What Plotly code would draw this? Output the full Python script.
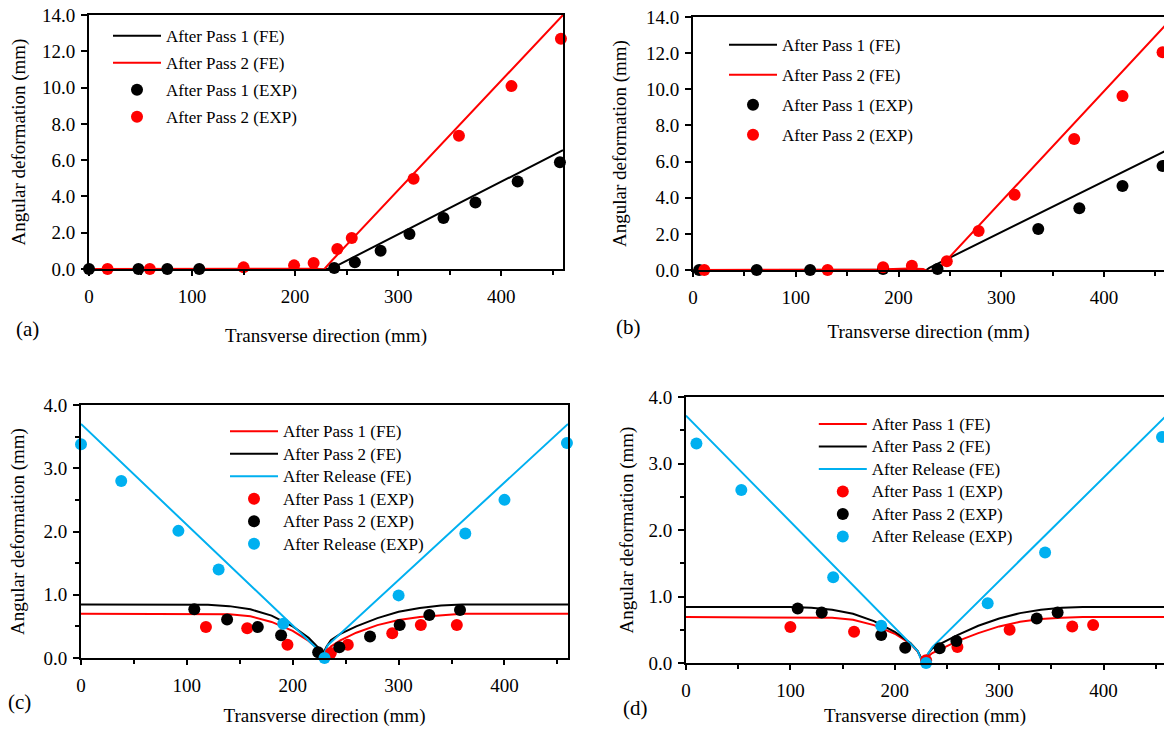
import plotly.graph_objects as go

# ---------------- data ----------------
# (a)
a_exp1_x = [0, 48, 76, 107, 238, 258, 283, 311, 344, 375, 416, 457]
a_exp1_y = [0, 0, 0, 0, 0.05, 0.37, 1.01, 1.93, 2.81, 3.66, 4.82, 5.89]
a_exp2_x = [18, 59, 150, 199, 218, 241, 255, 315, 359, 410, 458]
a_exp2_y = [0, 0, 0.09, 0.20, 0.33, 1.10, 1.71, 4.97, 7.34, 10.08, 12.69]
a_fe1_x = [0, 100, 200, 222, 228, 236, 460]
a_fe1_y = [0, 0, 0, 0, -0.03, 0.05, 6.55]
a_fe2_x = [0, 100, 200, 222, 228, 236, 460]
a_fe2_y = [0, 0, 0, 0.02, -0.03, 0.48, 14.0]

# (b)
b_exp1_x = [6, 62, 114, 185, 238, 336, 376, 418, 457]
b_exp1_y = [0, 0, 0, 0.05, 0.05, 2.27, 3.42, 4.65, 5.76]
b_exp2_x = [11, 131, 185, 213, 247, 278, 313, 371, 418, 457]
b_exp2_y = [0, 0, 0.15, 0.24, 0.48, 2.16, 4.16, 7.25, 9.63, 12.05]
b_fe1_x = [0, 100, 200, 220, 226, 230, 460]
b_fe1_y = [0, 0, 0, 0.02, -0.05, 0.12, 6.6]
b_fe2_x = [0, 100, 180, 210, 224, 228, 238, 460]
b_fe2_y = [0, 0, 0.03, 0.08, 0.05, -0.05, 0.0, 13.56]

# (c)
c_exp1_x = [118, 157, 195, 236, 252, 294, 321, 355]
c_exp1_y = [0.49, 0.47, 0.21, 0.08, 0.21, 0.39, 0.52, 0.52]
c_exp2_x = [107, 138, 167, 189, 224, 244, 273, 301, 329, 358]
c_exp2_y = [0.77, 0.61, 0.49, 0.36, 0.09, 0.17, 0.34, 0.52, 0.68, 0.76]
c_exp3_x = [0, 38, 92, 130, 191, 230, 300, 363, 400, 459]
c_exp3_y = [3.38, 2.80, 2.01, 1.40, 0.54, 0.0, 0.99, 1.97, 2.50, 3.40]
c_fe_x = [0, 100, 120, 140, 160, 180, 200, 215, 222, 226, 229, 232, 236,
          245, 260, 280, 300, 320, 340, 360, 380, 460]
c_fe1_y = [0.70, 0.70, 0.70, 0.69, 0.66, 0.57, 0.43, 0.27, 0.17, 0.09, 0.04,
           0.10, 0.18, 0.28, 0.40, 0.52, 0.60, 0.65, 0.68, 0.70, 0.70, 0.70]
c_fe2_y = [0.845, 0.845, 0.84, 0.82, 0.77, 0.67, 0.50, 0.32, 0.20, 0.12, 0.08,
           0.18, 0.28, 0.38, 0.50, 0.63, 0.73, 0.79, 0.83, 0.845, 0.845, 0.845]
c_fe3_x = [0, 225, 229, 233, 460]
c_fe3_y = [3.70, 0.11, 0.05, 0.20, 3.70]

# (d)
d_exp1_x = [100, 161, 230, 260, 310, 370, 390]
d_exp1_y = [0.54, 0.47, 0.04, 0.24, 0.50, 0.55, 0.57]
d_exp2_x = [107, 130, 187, 210, 243, 259, 336, 356]
d_exp2_y = [0.82, 0.76, 0.42, 0.23, 0.22, 0.33, 0.67, 0.76]
d_exp3_x = [10, 53, 141, 187, 230, 289, 344, 456]
d_exp3_y = [3.30, 2.60, 1.29, 0.56, 0.0, 0.90, 1.66, 3.40]
d_fe_x = [0, 100, 120, 140, 160, 180, 200, 215, 222, 226, 229, 232, 236,
          245, 260, 280, 300, 320, 340, 360, 380, 460]
d_fe1_y = [0.69, 0.69, 0.69, 0.68, 0.65, 0.57, 0.44, 0.29, 0.17, 0.05, 0.01,
           0.10, 0.15, 0.22, 0.33, 0.45, 0.55, 0.62, 0.66, 0.68, 0.69, 0.69]
d_fe2_y = [0.842, 0.842, 0.83, 0.80, 0.74, 0.63, 0.47, 0.30, 0.18, 0.05, 0.02,
           0.14, 0.22, 0.30, 0.42, 0.56, 0.67, 0.75, 0.80, 0.83, 0.842, 0.842]
d_fe3_x = [0, 222, 226, 228, 231, 236, 460]
d_fe3_y = [3.72, 0.18, 0.02, 0.0, 0.12, 0.24, 3.72]

x_tick_vals = [0, 100, 200, 300, 400]
labels_ab = ["After Pass 1 (FE)", "After Pass 2 (FE)", "After Pass 1 (EXP)", "After Pass 2 (EXP)"]
labels_cd = ["After Pass 1 (FE)", "After Pass 2 (FE)", "After Release (FE)",
             "After Pass 1 (EXP)", "After Pass 2 (EXP)", "After Release (EXP)"]

RED = "#FF0000"
BLACK = "#000000"
BLUE = "#00B0F0"
FONT = "Liberation Serif"
W, H = 1164, 729


def nm(s):
    return '<span style="font-size:17px">' + s + '</span>'


fig = go.Figure()


def line(x, y, color, name, xa, ya, leg, grp):
    fig.add_trace(go.Scatter(x=x, y=y, mode="lines", line=dict(color=color, width=2),
                             name=nm(name), xaxis=xa, yaxis=ya, legend=leg,
                             legendgroup=grp, hoverinfo="skip"))


def pts(x, y, color, name, xa, ya, leg, grp):
    fig.add_trace(go.Scatter(x=x, y=y, mode="markers", marker=dict(color=color, size=12),
                             name=nm(name), xaxis=xa, yaxis=ya, legend=leg,
                             legendgroup=grp, cliponaxis=False))


# (a)
line(a_fe1_x, a_fe1_y, BLACK, labels_ab[0], "x", "y", "legend", "a1")
line(a_fe2_x, a_fe2_y, RED, labels_ab[1], "x", "y", "legend", "a2")
pts(a_exp1_x, a_exp1_y, BLACK, labels_ab[2], "x", "y", "legend", "a3")
pts(a_exp2_x, a_exp2_y, RED, labels_ab[3], "x", "y", "legend", "a4")
# (b)
line(b_fe1_x, b_fe1_y, BLACK, labels_ab[0], "x2", "y2", "legend2", "b1")
line(b_fe2_x, b_fe2_y, RED, labels_ab[1], "x2", "y2", "legend2", "b2")
pts(b_exp1_x, b_exp1_y, BLACK, labels_ab[2], "x2", "y2", "legend2", "b3")
pts(b_exp2_x, b_exp2_y, RED, labels_ab[3], "x2", "y2", "legend2", "b4")
# (c)
line(c_fe_x, c_fe1_y, RED, labels_cd[0], "x3", "y3", "legend3", "c1")
line(c_fe_x, c_fe2_y, BLACK, labels_cd[1], "x3", "y3", "legend3", "c2")
line(c_fe3_x, c_fe3_y, BLUE, labels_cd[2], "x3", "y3", "legend3", "c3")
pts(c_exp1_x, c_exp1_y, RED, labels_cd[3], "x3", "y3", "legend3", "c4")
pts(c_exp2_x, c_exp2_y, BLACK, labels_cd[4], "x3", "y3", "legend3", "c5")
pts(c_exp3_x, c_exp3_y, BLUE, labels_cd[5], "x3", "y3", "legend3", "c6")
# (d)
line(d_fe_x, d_fe1_y, RED, labels_cd[0], "x4", "y4", "legend4", "d1")
line(d_fe_x, d_fe2_y, BLACK, labels_cd[1], "x4", "y4", "legend4", "d2")
line(d_fe3_x, d_fe3_y, BLUE, labels_cd[2], "x4", "y4", "legend4", "d3")
pts(d_exp1_x, d_exp1_y, RED, labels_cd[3], "x4", "y4", "legend4", "d4")
pts(d_exp2_x, d_exp2_y, BLACK, labels_cd[4], "x4", "y4", "legend4", "d5")
pts(d_exp3_x, d_exp3_y, BLUE, labels_cd[5], "x4", "y4", "legend4", "d6")


def px_x(a, b):
    return [a / W, min(b / W, 1.0)]


def px_y(top, bottom):
    return [1 - bottom / H, 1 - top / H]


tickfont = dict(family=FONT, size=19, color="black")
titlefont = dict(family=FONT, size=19, color="black")


def xaxis(dom, rng, anchor, standoff):
    return dict(domain=dom, range=rng, anchor=anchor, showgrid=False, zeroline=False,
                showline=True, linewidth=2, linecolor="black", mirror=True,
                ticks="outside", ticklen=5, tickwidth=1.5, tickcolor="black",
                tickvals=x_tick_vals, tickfont=tickfont, ticklabelstandoff=4,
                automargin=False,
                minor=dict(dtick=50, tick0=0, ticks="outside", ticklen=4, tickwidth=1.5,
                           tickcolor="black", showgrid=False),
                title=dict(text="Transverse direction (mm)", font=titlefont, standoff=standoff))


def yaxis(dom, rng, dtick, minor, anchor, standoff, mirror):
    d = dict(domain=dom, range=rng, anchor=anchor, showgrid=False, zeroline=False,
             showline=True, linewidth=2, linecolor="black", mirror=mirror,
             ticks="outside", ticklen=6, tickwidth=1.5, tickcolor="black",
             dtick=dtick, tick0=0, tickformat=".1f", tickfont=tickfont,
             ticklabelstandoff=2, automargin=False,
             title=dict(text="Angular deformation (mm)", font=titlefont, standoff=standoff))
    if minor:
        d["minor"] = dict(dtick=minor, tick0=0, ticks="outside", ticklen=4, tickwidth=1.5,
                          tickcolor="black", showgrid=False)
    return d


legfont = dict(family=FONT, size=15, color="black")


def legend(xpx, toppx, gap):
    return dict(x=xpx / W, y=1 - toppx / H, xanchor="left", yanchor="top",
                font=legfont, bgcolor="rgba(0,0,0,0)", borderwidth=0,
                itemwidth=48, tracegroupgap=gap, traceorder="grouped")


def label(txt, xpx, ypx):
    return dict(text=txt, x=xpx / W, y=1 - ypx / H, xref="paper", yref="paper",
                xanchor="left", yanchor="middle", showarrow=False,
                font=dict(family=FONT, size=21, color="black"))


fig.update_layout(
    width=W, height=H,
    margin=dict(l=0, r=0, t=0, b=0, autoexpand=False),
    paper_bgcolor="white", plot_bgcolor="white",
    font=dict(family=FONT, color="black"),
    showlegend=True,
    xaxis=xaxis(px_x(89, 563), [0, 460], "y", 23),
    yaxis=yaxis(px_y(15, 269), [0, 14], 2, None, "x", 11.5, True),
    xaxis2=xaxis(px_x(693, 1164), [0, 458.4], "y2", 18),
    yaxis2=yaxis(px_y(17, 270), [0, 14], 2, None, "x2", 14, False),
    xaxis3=xaxis(px_x(81, 568), [0, 460], "y3", 14),
    yaxis3=yaxis(px_y(405, 658), [0, 4], 1, 0.5, "x3", 14, True),
    xaxis4=xaxis(px_x(686, 1164), [0, 457.9], "y4", 9),
    yaxis4=yaxis(px_y(397, 663), [0, 4], 1, 0.5, "x4", 10, False),
    legend=legend(108, 19.5, 4.5),
    legend2=legend(724, 28.5, 7.5),
    legend3=legend(225, 415, 0),
    legend4=legend(813.8, 407.8, 0),
    annotations=[
        label("(a)", 14, 329),
        label("(b)", 614, 327),
        label("(c)", 5.5, 702),
        label("(d)", 621, 708),
    ],
)

fig.write_html("out.html")
